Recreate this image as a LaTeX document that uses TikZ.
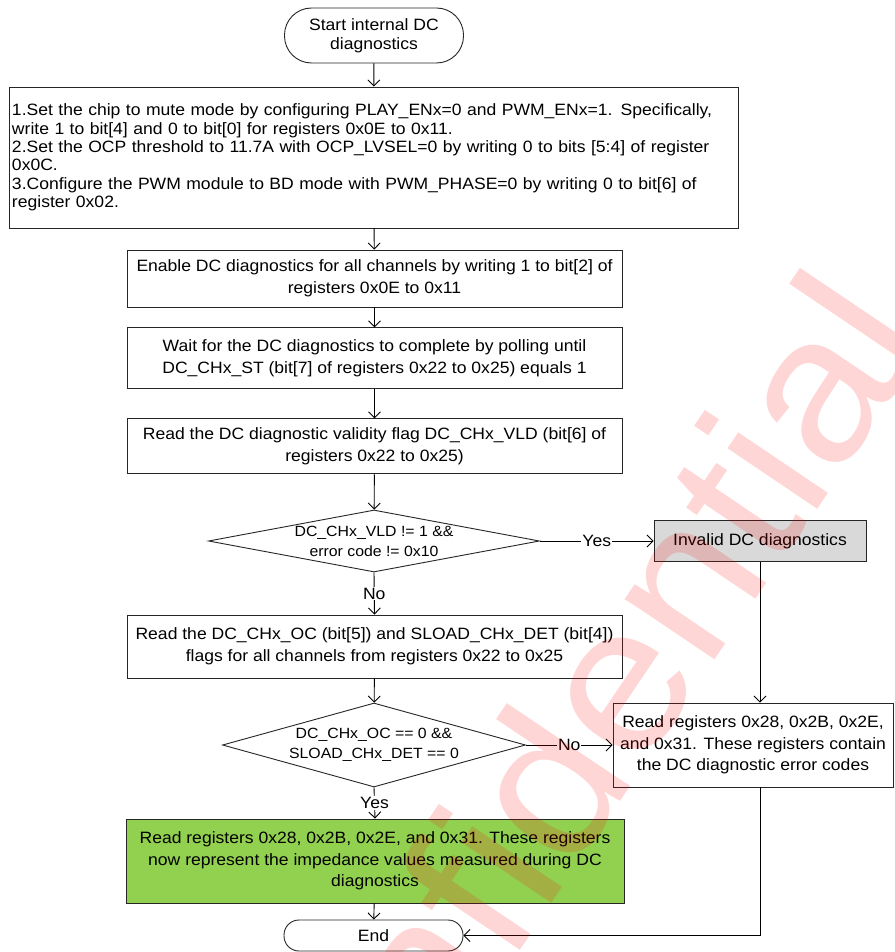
\documentclass[tikz,border=0pt]{standalone}
\usepackage{fontspec}
\setmainfont[FakeStretch=1.07]{Liberation Sans}
\usetikzlibrary{arrows.meta,shapes.geometric,calc}

\definecolor{okgreen}{HTML}{92D050}
\definecolor{warngray}{HTML}{D9D9D9}

\tikzset{
  every node/.style={font=\fontsize{16.4}{21.5}\selectfont},
  boxline/.style={draw=black!85, line width=0.9pt},
  proc/.style={boxline, rectangle, fill=white, align=center, inner sep=3pt,
               minimum width=495pt},
  term/.style={boxline, rectangle, fill=white, align=center, minimum width=179pt},
  decision/.style={boxline, diamond, fill=white, inner sep=0pt},
  condtext/.style={align=center, font=\fontsize{14.8}{20}\selectfont},
  flow/.style={line width=0.9pt, -{Straight Barb[length=6pt,width=12pt]}},
  lbl/.style={fill=white, inner sep=1pt},
  wm/.style={text=red, text opacity=0.16, inner sep=0pt,
             font=\fontsize{205}{205}\selectfont},
}

\begin{document}
\begin{tikzpicture}[x=1pt,y=-1pt]
  \fill[white] (0,0) rectangle (894,952);
  \useasboundingbox (0,0) rectangle (894,952);

  % main column
  \node[term, minimum height=55pt, rounded corners=27pt,
        font=\fontsize{16.4}{19}\selectfont] (start) at (374,35.5)
    {Start internal DC\\diagnostics};

  \node[boxline, rectangle, fill=white, align=left, inner xsep=3pt,
        text width=723pt, minimum height=141pt,
        font=\fontsize{16.4}{18.4}\selectfont] (setup) at (373.5,157.5)
    {1.Set the chip to mute mode by configuring PLAY\_ENx=0 and PWM\_ENx=1. Specifically,\\
     write 1 to bit[4] and 0 to bit[0] for registers 0x0E to 0x11.\\
     2.Set the OCP threshold to 11.7A with OCP\_LVSEL=0 by writing 0 to bits [5:4] of register\\
     0x0C.\\
     3.Configure the PWM module to BD mode with PWM\_PHASE=0 by writing 0 to bit[6] of\\
     register 0x02.};

  \node[proc, minimum height=57pt] (enable) at (374.5,278.5)
    {Enable DC diagnostics for all channels by writing 1 to bit[2] of\\
     registers 0x0E to 0x11};

  \node[proc, minimum height=61pt] (wait) at (374.5,358.4)
    {Wait for the DC diagnostics to complete by polling until\\
     DC\_CHx\_ST (bit[7] of registers 0x22 to 0x25) equals 1};

  \node[proc, minimum height=55pt] (vld) at (374.5,446.4)
    {Read the DC diagnostic validity flag DC\_CHx\_VLD (bit[6] of\\
     registers 0x22 to 0x25)};

  \node[decision, minimum width=331pt, minimum height=62pt] (dvalid) at (374,541) {};
  \node[condtext] (dvalidtxt) at (dvalid.center)
    {DC\_CHx\_VLD != 1 \&\&\\error code != 0x10};

  \node[proc, minimum height=63pt] (flags) at (374.5,646.5)
    {Read the DC\_CHx\_OC (bit[5]) and SLOAD\_CHx\_DET (bit[4])\\
     flags for all channels from registers 0x22 to 0x25};

  \node[decision, minimum width=303pt, minimum height=84pt] (dflags) at (374,745) {};
  \node[condtext] (dflagstxt) at (dflags.center)
    {DC\_CHx\_OC == 0 \&\&\\SLOAD\_CHx\_DET == 0};

  \node[proc, fill=okgreen, minimum width=498pt, minimum height=84pt] (imped) at (375,861)
    {Read registers 0x28, 0x2B, 0x2E, and 0x31. These registers\\
     now represent the impedance values measured during DC\\
     diagnostics};

  \node[term, minimum height=31pt, rounded corners=15pt] (finish) at (373.5,935.5) {End};

  % right column
  \node[boxline, rectangle, fill=warngray, minimum width=212pt, minimum height=41pt]
    (invalid) at (760,541) {Invalid DC diagnostics};

  \node[boxline, rectangle, fill=white, align=center, minimum width=280pt,
        minimum height=84pt] (errcodes) at (753,745)
    {Read registers 0x28, 0x2B, 0x2E,\\
     and 0x31. These registers contain\\
     the DC diagnostic error codes};

  % connectors
  \draw[flow] (start) -- (setup);
  \draw[flow] (setup) -- (enable);
  \draw[flow] (enable) -- (wait);
  \draw[flow] (wait) -- (vld);
  \draw[flow] (vld) -- (dvalid);
  \draw[flow] (dvalid.east) -- node[lbl] (yes1) {Yes} (invalid.west);
  \draw[flow] (dvalid.south) -- node[lbl] (no1) {No} (flags.north);
  \draw[flow] (flags) -- (dflags);
  \draw[flow] (dflags.east) -- node[lbl] (no2) {No} (errcodes.west);
  \draw[flow] (dflags.south) -- node[lbl] (yes2) {Yes} (imped.north);
  \draw[flow] (imped) -- (finish);
  \draw[flow] (invalid.south) -- (invalid.south |- errcodes.north);
  \draw[flow] (invalid.south |- errcodes.south) |- (finish.east);

  % watermark
  \node[wm, rotate=56, anchor=base east] (mark) at (932,339) {Confidential};
\end{tikzpicture}
\end{document}
